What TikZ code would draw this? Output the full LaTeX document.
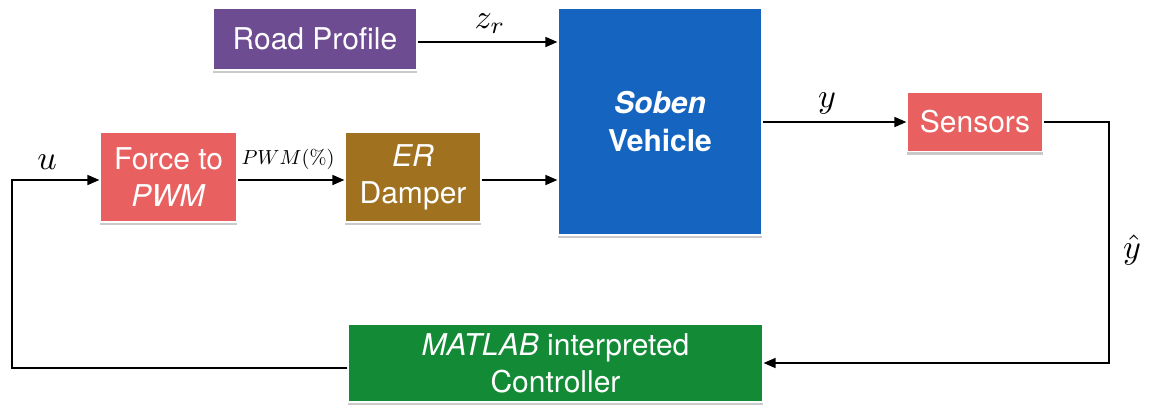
\documentclass[tikz,border=0pt]{standalone}
\usepackage[no-math]{fontspec}
\setmainfont{TeX Gyre Heros}
\usetikzlibrary{arrows.meta,shadows}
\definecolor{cpurple}{HTML}{6E4C92}
\definecolor{cred}{HTML}{E96060}
\definecolor{cbrown}{HTML}{A07220}
\definecolor{cblue}{HTML}{1565C0}
\definecolor{cgreen}{HTML}{138A36}
\tikzset{
  blk/.style={rectangle, draw=white, line width=1.2pt, text=white, align=center,
    inner sep=0pt, font=\fontsize{30}{37}\selectfont,
    drop shadow={shadow xshift=0pt, shadow yshift=-3pt, fill=black!35, opacity=0.6}},
  conn/.style={line width=1.6pt, -{Triangle[length=12pt,width=10pt]}},
  lbl/.style={inner sep=0pt, scale=3.4},
}
\begin{document}
\begin{tikzpicture}[x=1pt,y=-1pt]
\useasboundingbox (0,0) rectangle (1150,416);
\node[blk, fill=cpurple, minimum width=204pt, minimum height=62pt] (road) at (315,39) {Road Profile};
\node[blk, fill=cblue, minimum width=204pt, minimum height=227pt, font=\fontsize{30}{38}\selectfont\bfseries] (veh) at (660,121.5) {\textit{Soben}\\Vehicle};
\node[blk, fill=cred, minimum width=137pt, minimum height=90pt] (force) at (168.5,177) {Force to\\\textit{PWM}};
\node[blk, fill=cbrown, minimum width=136pt, minimum height=90pt] (er) at (413,177) {\textit{ER}\\Damper};
\node[blk, fill=cred, minimum width=136pt, minimum height=59pt] (sens) at (975,122) {Sensors};
\node[blk, fill=cgreen, minimum width=415pt, minimum height=78pt] (ctrl) at (555.5,363) {\textit{MATLAB} interpreted\\Controller};
\coordinate (lc) at (12,180);
\coordinate (rc) at (1109,122);

\draw[conn] ([yshift=-3pt]road.east) -- ([yshift=-3pt]veh.west |- road.east);
\draw[conn] ([yshift=-3pt]er.east) -- ([yshift=-3pt]veh.west |- er.east);
\draw[conn] ([yshift=-3pt]force.east) -- ([yshift=-3pt]er.west);
\draw[conn] (veh.east |- sens.west) -- (sens.west);
\draw[conn] (sens.east) -- (rc) -- (rc |- ctrl.east) -- (ctrl.east);
\draw[conn] ([yshift=-5pt]ctrl.west) -- ([yshift=-5pt]lc |- ctrl.west) -- (lc) -- (lc -| force.west);

\node[lbl] (lz) at (490,24) {$z_r$};
\node[lbl] (lu) at (47,162) {$u$};
\node[lbl, scale=0.6] (lp) at (288,159) {$PWM(\%)$};
\node[lbl] (ly) at (827,103) {$y$};
\node[lbl] (lyh) at (1132,250) {$\hat{y}$};
\end{tikzpicture}
\end{document}
